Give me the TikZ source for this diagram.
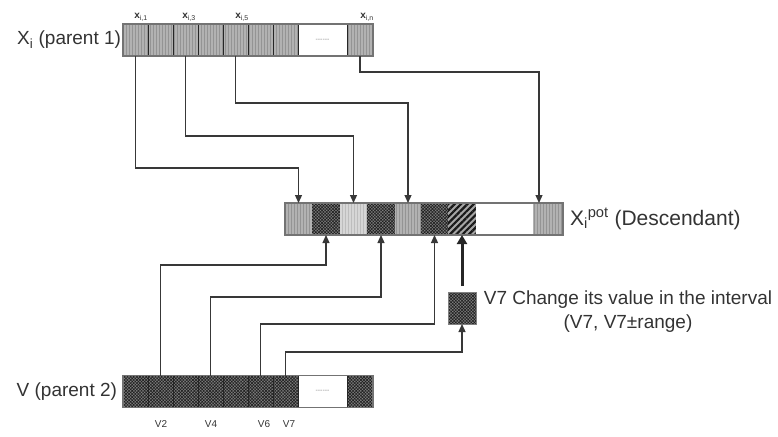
\documentclass[tikz,border=0pt]{standalone}
\usepackage{fontspec}
\setmainfont{Liberation Sans}
\usetikzlibrary{patterns.meta,arrows.meta,calc}
\begin{document}
\begin{tikzpicture}[x=1pt,y=-1pt,
  every node/.style={inner sep=0pt, outer sep=0pt},
  cellbase/.style={minimum height=32pt, draw=black!85, line width=0.7pt},
  lightcell/.style={cellbase, preaction={fill=black!30}, pattern={Lines[angle=90,distance=3pt,line width=0.9pt]}, pattern color=black!42},
  palecell/.style={cellbase, preaction={fill=black!16}, pattern={Lines[angle=90,distance=3pt,line width=0.9pt]}, pattern color=black!26},
  darkcell/.style={cellbase, preaction={fill=black!50}, pattern={Hatch[angle=45,distance=2.2pt,line width=0.6pt]}, pattern color=black!88},
  mutcell/.style={cellbase, preaction={fill=black!35}, pattern={Lines[angle=45,distance=4.5pt,line width=2.2pt]}, pattern color=black!90},
  gapcell/.style={cellbase, fill=white},
  barline/.style={draw=black!55, line width=1.2pt},
  conn/.style={draw=black!78, line width=1.2pt, -{Triangle[length=8pt,width=7pt]}},
  thickconn/.style={draw=black!85, line width=3pt, -{Triangle[length=9pt,width=10pt]}},
  lbl/.style={text=black!80, font=\fontsize{19}{24}\selectfont},
  small/.style={text=black!80, font=\fontsize{10}{11}\selectfont},
  dots/.style={font=\fontsize{7}{7}\selectfont, text=black!45},
]
\useasboundingbox (0,0) rectangle (778,436);

% parent 1
\node[lightcell, minimum width=25pt] (a1) at (135.5,40) {};
\node[lightcell, minimum width=25pt] (a2) at (160.5,40) {};
\node[lightcell, minimum width=25pt] (a3) at (185.5,40) {};
\node[lightcell, minimum width=25pt] (a4) at (210.5,40) {};
\node[lightcell, minimum width=25pt] (a5) at (235.5,40) {};
\node[lightcell, minimum width=25pt] (a6) at (260.5,40) {};
\node[lightcell, minimum width=25pt] (a7) at (285.5,40) {};
\node[gapcell, minimum width=49pt, dots] (ag) at (322.5,40) {{-}{-}{-}{-}{-}{-}};
\node[lightcell, minimum width=26pt] (an) at (360,40) {};
\draw[barline] (a1.north west) rectangle (an.south east);

\node[small] (la1) at (141,17) {\textbf{x}\textsubscript{i,1}};
\node[small] (la3) at (189,17) {\textbf{x}\textsubscript{i,3}};
\node[small] (la5) at (242,17) {\textbf{x}\textsubscript{i,5}};
\node[small] (lan) at (367,17) {\textbf{x}\textsubscript{i,n}};

\node[lbl, anchor=east] (p1) at (121,40) {X\textsubscript{i} (parent 1)};

% descendant
\node[lightcell, draw=none, minimum width=27pt] (c1) at (298.5,219) {};
\node[darkcell, draw=none, minimum width=28pt] (c2) at (326,219) {};
\node[palecell, draw=none, minimum width=27pt] (c3) at (353.5,219) {};
\node[darkcell, draw=none, minimum width=28pt] (c4) at (381,219) {};
\node[lightcell, draw=none, minimum width=26pt] (c5) at (408,219) {};
\node[darkcell, draw=none, minimum width=27pt] (c6) at (434.5,219) {};
\node[mutcell, draw=none, minimum width=28pt] (c7) at (462,219) {};
\node[gapcell, draw=none, minimum width=57pt] (cg) at (504.5,219) {};
\node[lightcell, draw=none, minimum width=30pt] (c8) at (548,219) {};
\draw[barline] (c1.north west) rectangle (c8.south east);
\node[lbl, anchor=west, font=\fontsize{21}{24}\selectfont] (d) at (570,219) {X\textsubscript{i}\textsuperscript{pot} (Descendant)};

% parent 2
\node[darkcell, minimum width=25pt] (b1) at (135.5,391.5) {};
\node[darkcell, minimum width=25pt] (b2) at (160.5,391.5) {};
\node[darkcell, minimum width=25pt] (b3) at (185.5,391.5) {};
\node[darkcell, minimum width=25pt] (b4) at (210.5,391.5) {};
\node[darkcell, minimum width=25pt] (b5) at (235.5,391.5) {};
\node[darkcell, minimum width=25pt] (b6) at (260.5,391.5) {};
\node[darkcell, minimum width=25pt] (b7) at (285.5,391.5) {};
\node[gapcell, minimum width=49pt, dots] (bg) at (322.5,391.5) {{-}{-}{-}{-}{-}{-}};
\node[darkcell, minimum width=26pt] (bn) at (360,391.5) {};
\draw[barline] (b1.north west) rectangle (bn.south east);
\node[lbl, anchor=east] (p2) at (117,391.5) {V (parent 2)};

\node[small] (lb2) at (161,424) {V2};
\node[small] (lb4) at (211,424) {V4};
\node[small] (lb6) at (264,424) {V6};
\node[small] (lb7) at (289,424) {V7};

% mutated gene
\node[darkcell, draw=black!50, line width=0.4pt, minimum width=28pt] (m) at (462,308) {};
\node[lbl, align=center] (t) at (628,312) {V7 Change its value in the interval\\(V7, V7±range)};

% connectors from parent 1
\coordinate (c8in) at ($(c8.north west)+(6,0)$);
\draw[conn] (a1.south) |- (c1.north |- 0,168) -- (c1.north);
\draw[conn] (a3.south) |- (c3.north |- 0,136) -- (c3.north);
\draw[conn] (a5.south) |- (c5.north |- 0,103) -- (c5.north);
\draw[conn] (an.south) |- (c8in |- 0,72) -- (c8in);

% connectors from parent 2
\draw[conn] (b2.north) |- (c2.south |- 0,265) -- (c2.south);
\draw[conn] (b4.north) |- (c4.south |- 0,297) -- (c4.south);
\draw[conn] (b6.north) |- (c6.south |- 0,324) -- (c6.south);
\draw[conn] (b7.north) |- (m.south |- 0,352) -- (m.south);
\draw[thickconn, shorten <=6pt] (m.north) -- (c7.south);
\end{tikzpicture}
\end{document}
